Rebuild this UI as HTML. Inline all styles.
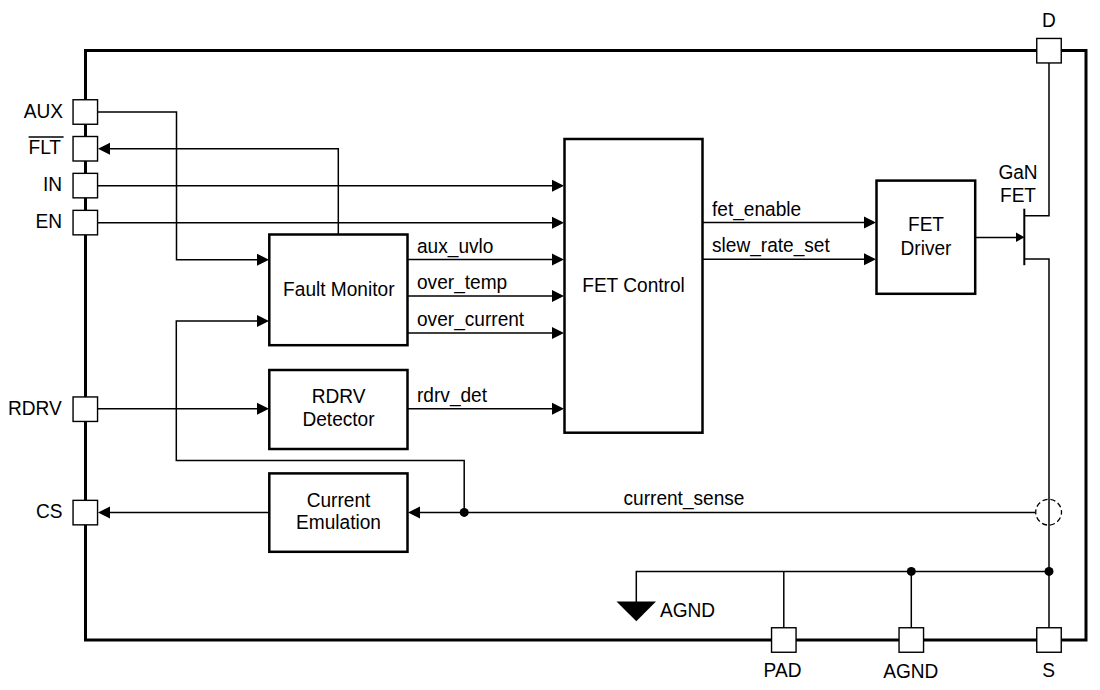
<!DOCTYPE html>
<html><head><meta charset="utf-8"><style>
html,body{margin:0;padding:0;background:#fff;width:1100px;height:690px;overflow:hidden}
svg{display:block}
text{font-family:"Liberation Sans",sans-serif;fill:#000}
</style></head><body>
<svg width="1100" height="690" viewBox="0 0 1100 690">
<rect x="85.5" y="50.5" width="1000.5" height="589.5" fill="none" stroke="#000" stroke-width="3"/>
<path d="M98,112 L176.5,112 L176.5,259.7 L258,259.7" fill="none" stroke="#000" stroke-width="1.5"/>
<path d="M338.3,234 L338.3,148.75 L108,148.75" fill="none" stroke="#000" stroke-width="1.5"/>
<path d="M98,185.8 L553,185.8" fill="none" stroke="#000" stroke-width="1.5"/>
<path d="M98,222.8 L553,222.8" fill="none" stroke="#000" stroke-width="1.5"/>
<path d="M407.5,259.6 L553,259.6" fill="none" stroke="#000" stroke-width="1.5"/>
<path d="M407.5,296 L553,296" fill="none" stroke="#000" stroke-width="1.5"/>
<path d="M407.5,333 L553,333" fill="none" stroke="#000" stroke-width="1.5"/>
<path d="M464.2,512.5 L464.2,460.5 L176.3,460.5 L176.3,321 L258,321" fill="none" stroke="#000" stroke-width="1.5"/>
<path d="M98,408.7 L258,408.7" fill="none" stroke="#000" stroke-width="1.5"/>
<path d="M407.5,408.7 L553,408.7" fill="none" stroke="#000" stroke-width="1.5"/>
<path d="M1035,512.5 L418,512.5" fill="none" stroke="#000" stroke-width="1.5"/>
<path d="M269,512.5 L108,512.5" fill="none" stroke="#000" stroke-width="1.5"/>
<path d="M702.5,222.6 L865,222.6" fill="none" stroke="#000" stroke-width="1.5"/>
<path d="M702.5,259.3 L865,259.3" fill="none" stroke="#000" stroke-width="1.5"/>
<path d="M975,237.5 L1017,237.5" fill="none" stroke="#000" stroke-width="1.5"/>
<path d="M1024.3,208.7 L1024.3,265.2" fill="none" stroke="#000" stroke-width="2"/>
<path d="M1024.3,215.8 L1049,215.8 L1049,63" fill="none" stroke="#000" stroke-width="1.5"/>
<path d="M1024.3,259 L1049,259 L1049,628" fill="none" stroke="#000" stroke-width="1.5"/>
<path d="M1049,571.4 L636.3,571.4 L636.3,602" fill="none" stroke="#000" stroke-width="1.5"/>
<path d="M783.8,571.4 L783.8,628" fill="none" stroke="#000" stroke-width="1.5"/>
<path d="M911.3,571.4 L911.3,628" fill="none" stroke="#000" stroke-width="1.5"/>
<polygon points="616.5,601.4 656,601.4 636.3,621.3" fill="#000"/>
<polygon points="269,259.7 257,253.7 257,265.7" fill="#000"/>
<polygon points="98,148.75 110,142.75 110,154.75" fill="#000"/>
<polygon points="564,185.8 552,179.8 552,191.8" fill="#000"/>
<polygon points="564,222.8 552,216.8 552,228.8" fill="#000"/>
<polygon points="564,259.6 552,253.60000000000002 552,265.6" fill="#000"/>
<polygon points="564,296 552,290.0 552,302.0" fill="#000"/>
<polygon points="564,333 552,327.0 552,339.0" fill="#000"/>
<polygon points="269,321 257,315.0 257,327.0" fill="#000"/>
<polygon points="269,408.7 257,402.7 257,414.7" fill="#000"/>
<polygon points="564,408.7 552,402.7 552,414.7" fill="#000"/>
<polygon points="408,512.5 420,506.5 420,518.5" fill="#000"/>
<polygon points="98,512.5 110,506.5 110,518.5" fill="#000"/>
<polygon points="876,222.6 864,216.6 864,228.6" fill="#000"/>
<polygon points="876,259.3 864,253.3 864,265.3" fill="#000"/>
<polygon points="1024.5,237.2 1016.0,232.45 1016.0,241.95" fill="#000"/>
<circle cx="911.3" cy="571.4" r="4.5" fill="#000"/>
<circle cx="1049" cy="571.4" r="4.5" fill="#000"/>
<circle cx="464.2" cy="512.4" r="4.5" fill="#000"/>
<circle cx="1048.6" cy="512.2" r="12.9" fill="none" stroke="#000" stroke-width="1.3" stroke-dasharray="5.187 2.918" stroke-dashoffset="2.594"/>
<rect x="269.3" y="234.5" width="138.2" height="110.69999999999999" fill="#fff" stroke="#000" stroke-width="2.5"/>
<rect x="269.3" y="370" width="138.2" height="79" fill="#fff" stroke="#000" stroke-width="2.5"/>
<rect x="269.3" y="473.4" width="138.2" height="78.39999999999998" fill="#fff" stroke="#000" stroke-width="2.5"/>
<rect x="564.5" y="139" width="138.0" height="293.7" fill="#fff" stroke="#000" stroke-width="2.5"/>
<rect x="876.5" y="180.6" width="98.70000000000005" height="113.20000000000002" fill="#fff" stroke="#000" stroke-width="2.5"/>
<rect x="73.05" y="99.75" width="24.5" height="24.5" fill="#fff" stroke="#000" stroke-width="1.4"/>
<rect x="73.05" y="136.5" width="24.5" height="24.5" fill="#fff" stroke="#000" stroke-width="1.4"/>
<rect x="73.05" y="173.35" width="24.5" height="24.5" fill="#fff" stroke="#000" stroke-width="1.4"/>
<rect x="73.05" y="210.35" width="24.5" height="24.5" fill="#fff" stroke="#000" stroke-width="1.4"/>
<rect x="73.05" y="396.95" width="24.5" height="24.5" fill="#fff" stroke="#000" stroke-width="1.4"/>
<rect x="73.05" y="500.35" width="24.5" height="24.5" fill="#fff" stroke="#000" stroke-width="1.4"/>
<rect x="1036.75" y="38.45" width="24.5" height="24.5" fill="#fff" stroke="#000" stroke-width="1.4"/>
<rect x="771.55" y="627.75" width="24.5" height="24.5" fill="#fff" stroke="#000" stroke-width="1.4"/>
<rect x="899.05" y="627.75" width="24.5" height="24.5" fill="#fff" stroke="#000" stroke-width="1.4"/>
<rect x="1036.75" y="627.75" width="24.5" height="24.5" fill="#fff" stroke="#000" stroke-width="1.4"/>
<text transform="translate(63,117.80) scale(1,1.06)" text-anchor="end" font-size="19.1">AUX</text>
<text transform="translate(61,154.30) scale(1,1.06)" text-anchor="end" font-size="19.1">FLT</text>
<line x1="28.6" y1="137" x2="63.6" y2="137" stroke="#000" stroke-width="1.5"/>
<text transform="translate(62,191.10) scale(1,1.06)" text-anchor="end" font-size="19.1">IN</text>
<text transform="translate(62,228.20) scale(1,1.06)" text-anchor="end" font-size="19.1">EN</text>
<text transform="translate(61.7,415.00) scale(1,1.06)" text-anchor="end" font-size="19.1">RDRV</text>
<text transform="translate(62.5,518.00) scale(1,1.06)" text-anchor="end" font-size="19.1">CS</text>
<text transform="translate(1049,26.50) scale(1,1.06)" text-anchor="middle" font-size="19.1">D</text>
<text transform="translate(338.8,295.50) scale(1,1.06)" text-anchor="middle" font-size="19.1">Fault Monitor</text>
<text transform="translate(338.5,403.20) scale(1,1.06)" text-anchor="middle" font-size="19.1">RDRV</text>
<text transform="translate(338.5,425.80) scale(1,1.06)" text-anchor="middle" font-size="19.1">Detector</text>
<text transform="translate(338.5,506.60) scale(1,1.06)" text-anchor="middle" font-size="19.1">Current</text>
<text transform="translate(338.5,529.20) scale(1,1.06)" text-anchor="middle" font-size="19.1">Emulation</text>
<text transform="translate(633.5,292.00) scale(1,1.06)" text-anchor="middle" font-size="19.1">FET Control</text>
<text transform="translate(926,230.70) scale(1,1.06)" text-anchor="middle" font-size="19.1">FET</text>
<text transform="translate(926,254.80) scale(1,1.06)" text-anchor="middle" font-size="19.1">Driver</text>
<text transform="translate(1018,179.00) scale(1,1.06)" text-anchor="middle" font-size="19.1">GaN</text>
<text transform="translate(1018,202.20) scale(1,1.06)" text-anchor="middle" font-size="19.1">FET</text>
<text transform="translate(417,253.00) scale(1,1.06)" text-anchor="start" font-size="19.1">aux_uvlo</text>
<text transform="translate(417,289.00) scale(1,1.06)" text-anchor="start" font-size="19.1">over_temp</text>
<text transform="translate(417,325.70) scale(1,1.06)" text-anchor="start" font-size="19.1">over_current</text>
<text transform="translate(417,402.00) scale(1,1.06)" text-anchor="start" font-size="19.1">rdrv_det</text>
<text transform="translate(712,215.60) scale(1,1.06)" text-anchor="start" font-size="19.1">fet_enable</text>
<text transform="translate(712,252.30) scale(1,1.06)" text-anchor="start" font-size="19.1">slew_rate_set</text>
<text transform="translate(623.5,505.20) scale(1,1.06)" text-anchor="start" font-size="19.1">current_sense</text>
<text transform="translate(660,617.00) scale(1,1.06)" text-anchor="start" font-size="19.1">AGND</text>
<text transform="translate(782.5,677.40) scale(1,1.06)" text-anchor="middle" font-size="19.1">PAD</text>
<text transform="translate(910.8,677.60) scale(1,1.06)" text-anchor="middle" font-size="19.1">AGND</text>
<text transform="translate(1048.5,677.40) scale(1,1.06)" text-anchor="middle" font-size="19.1">S</text>
</svg>
</body></html>
